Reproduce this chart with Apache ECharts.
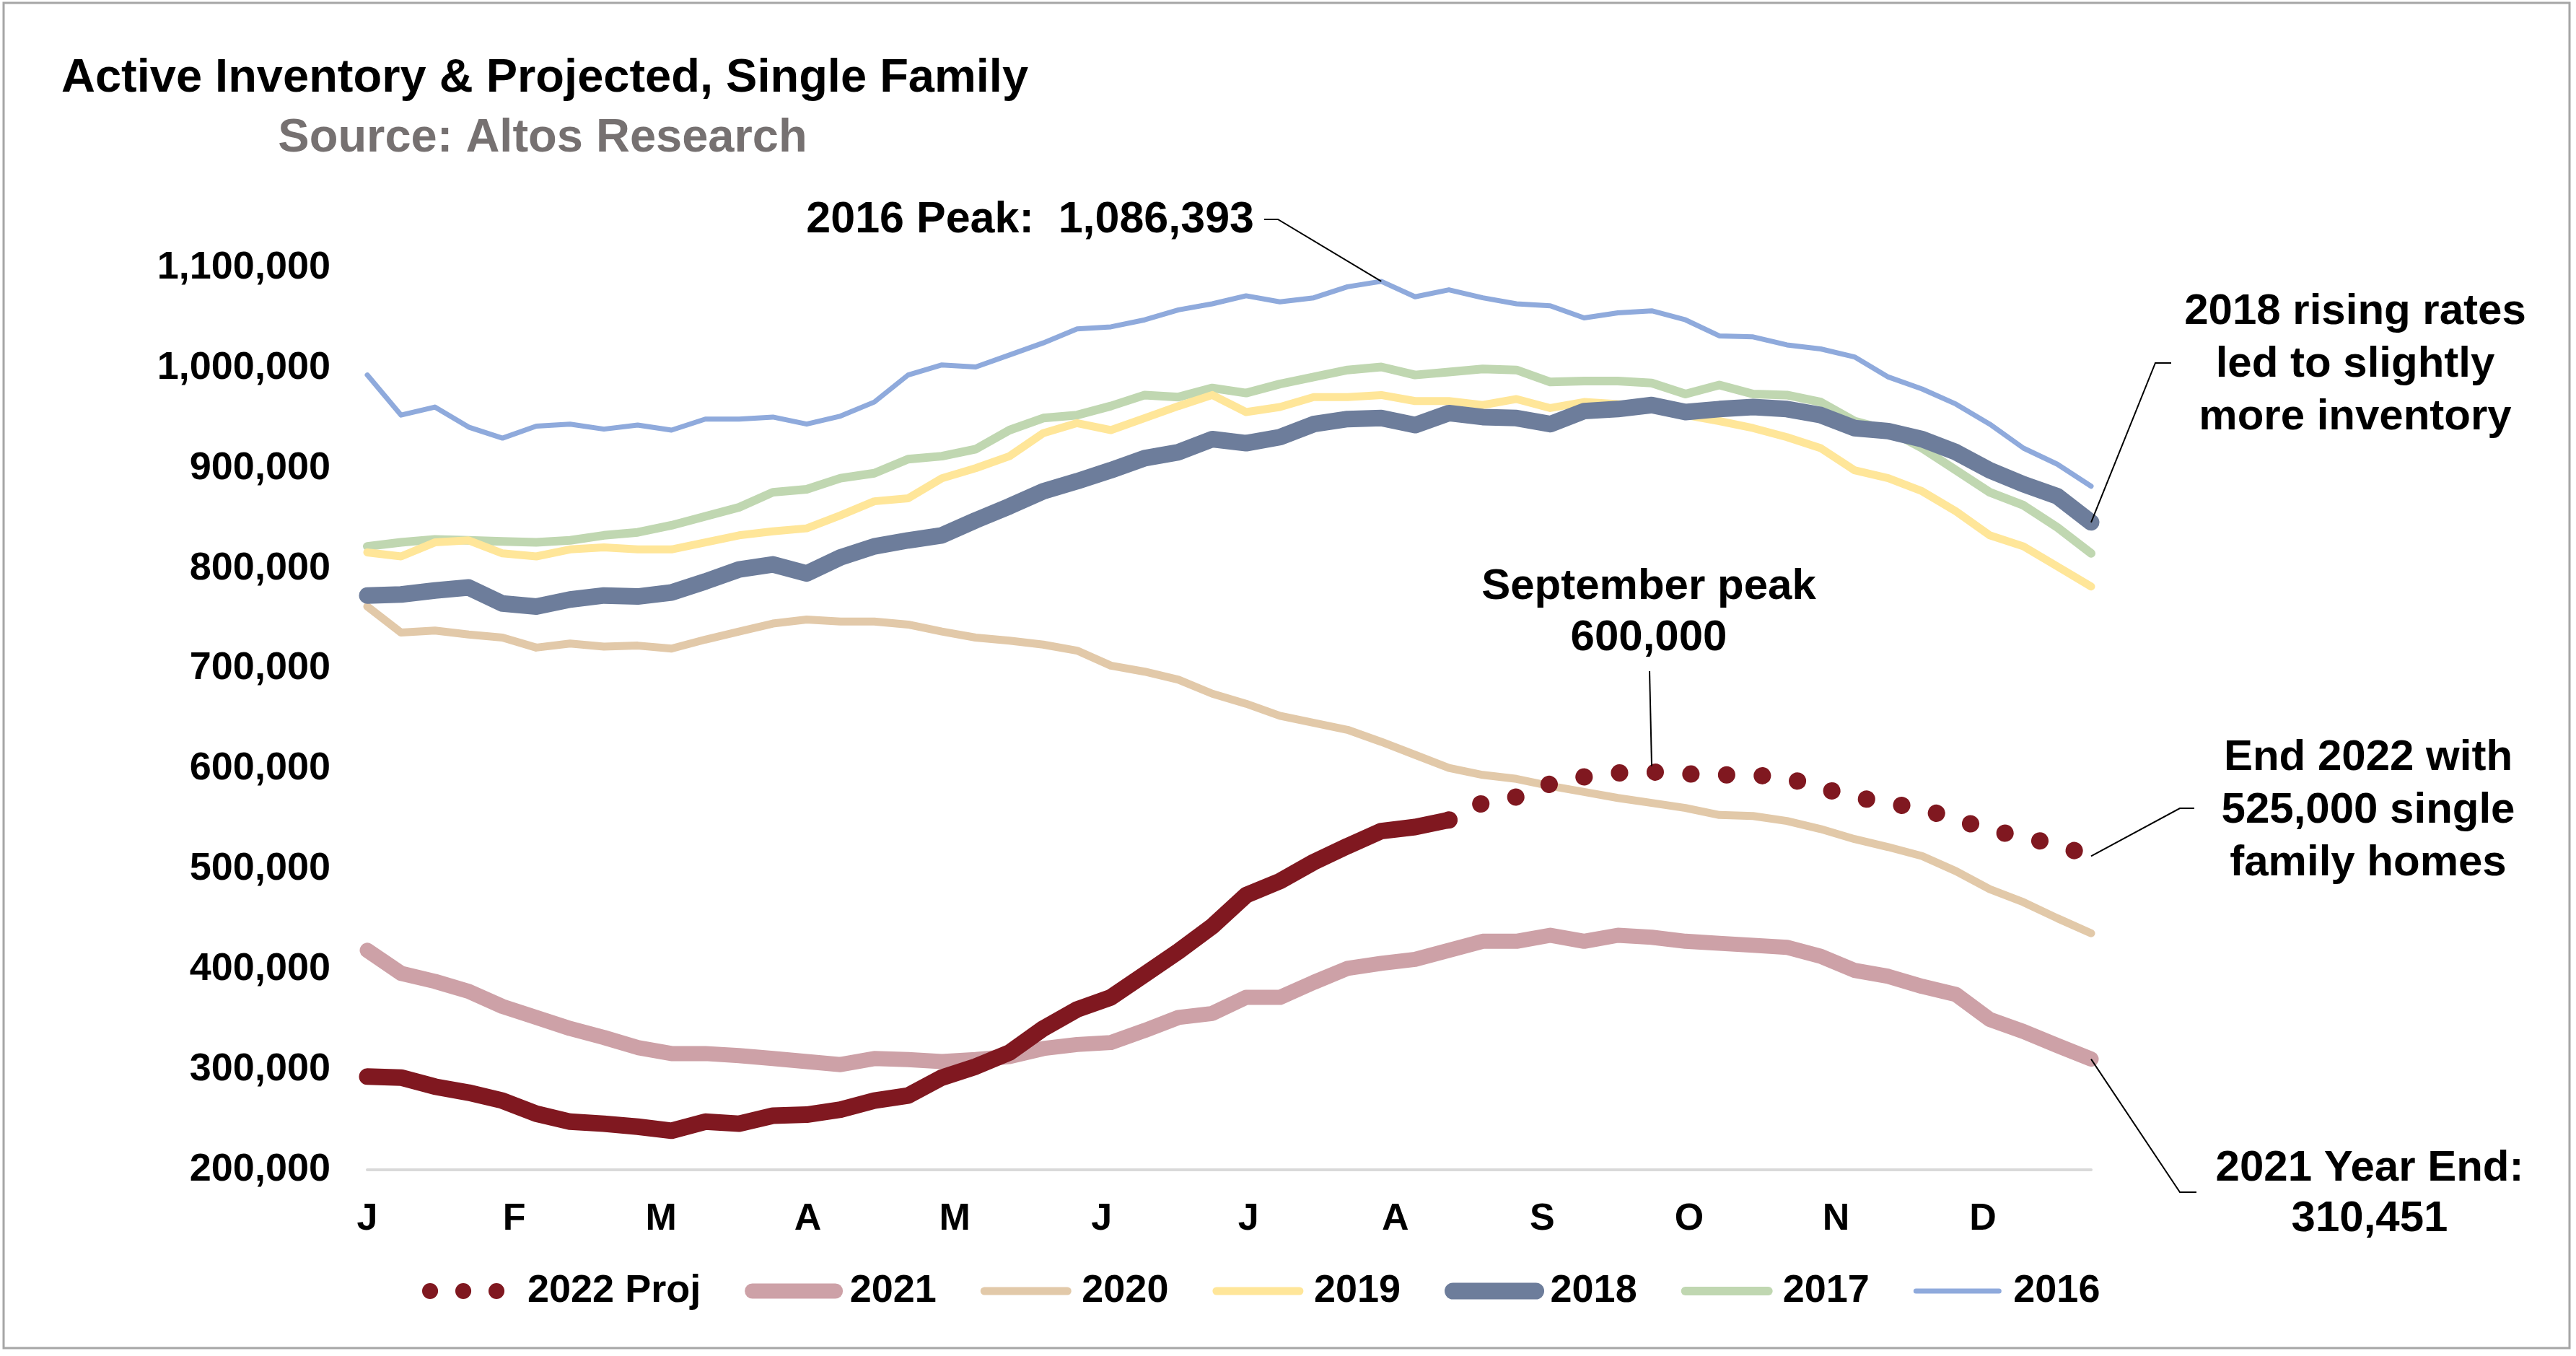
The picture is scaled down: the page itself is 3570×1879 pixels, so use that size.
<!DOCTYPE html>
<html>
<head>
<meta charset="utf-8">
<script src="https://cdn.jsdelivr.net/npm/echarts/dist/echarts.min.js"></script>
<style>
html,body{margin:0;padding:0;background:#fff;}
#chart{width:3570px;height:1879px;}
</style>
</head>
<body>
<div id="chart"></div>
<script>
// ---------- DATA (weekly, week 0 = first week of January) ----------
const monthLetters = ['J','F','M','A','M','J','J','A','S','O','N','D'];
const yTicks = [200000, 1100000, 100000]; // min, max, step

const s2016 = [993000,953000,961000,941000,930000,942000,944000,939000,943000,938000,
  949000,949000,951000,944000,952000,966000,993000,1003000,1001000,1013000,
  1025000,1039000,1041000,1048000,1058000,1064000,1072000,1066000,1070000,1081000,
  1086393,1071000,1078000,1070000,1064000,1062000,1050000,1055000,1057000,1048000,
  1032000,1031000,1023000,1019000,1011000,991000,979000,964000,944000,920000,
  904000,882000];
const s2017 = [822000,826000,829000,828000,827000,826000,828000,833000,836000,843000,
  852000,861000,876000,879000,890000,895000,909000,912000,919000,938000,
  950000,953000,962000,973000,971000,980000,975000,984000,991000,998000,
  1001000,993000,996000,999000,998000,986000,987000,987000,985000,974000,
  983000,974000,973000,966000,947000,938000,920000,898000,876000,863000,
  841000,815000];
const s2019 = [816000,812000,826000,828000,815000,812000,819000,821000,819000,819000,
  826000,833000,837000,840000,853000,867000,870000,890000,900000,912000,
  935000,945000,938000,950000,962000,973000,956000,961000,971000,971000,
  973000,967000,967000,963000,969000,960000,966000,964000,960000,953000,
  947000,940000,931000,920000,898000,890000,877000,857000,833000,822000,
  802000,782000];
const s2018 = [773000,774000,778000,781000,765000,762000,769000,773000,772000,776000,
  787000,799000,804000,795000,811000,822000,828000,833000,848000,862000,
  877000,887000,898000,910000,916000,929000,925000,931000,944000,949000,
  950000,943000,955000,951000,950000,944000,957000,959000,963000,956000,
  959000,961000,959000,953000,940000,937000,929000,916000,898000,884000,
  872000,846000];
const s2020 = [762000,736000,738000,734000,731000,721000,725000,722000,723000,720000,
  729000,737000,745000,749000,747000,747000,744000,737000,731000,728000,
  724000,718000,703000,697000,689000,675000,665000,653000,646000,639000,
  627000,614000,601000,594000,590000,583000,577000,571000,566000,561000,
  554000,553000,548000,540000,530000,522000,513000,498000,480000,467000,
  451000,436000];
const s2021 = [419000,396000,388000,378000,363000,352000,341000,332000,322000,316000,
  316000,314000,311000,308000,305000,311000,310000,308000,310000,313000,
  321000,325000,327000,339000,352000,356000,372000,372000,387000,401000,
  406000,410000,419000,428000,428000,434000,428000,434000,432000,428000,
  426000,424000,422000,413000,399000,393000,383000,375000,350000,338000,
  324000,310451];
const actual2022 = [293000,292000,283000,277000,269000,256000,248000,246000,243000,239000,
  248000,246000,254000,255000,260000,269000,274000,292000,303000,317000,
  341000,360000,372000,395000,418000,443000,474000,488000,507000,523000,
  538000,542000,549000];
const projStartWeek = 32;
const proj2022 = [549000,566000,572000,585000,592000,596000,597000,595000,594000,594000,
  591000,581000,572000,566000,560000,550000,539000,532000,524000,513000];

// ---------- STYLE ----------
const FONT = "'Liberation Sans', Arial, sans-serif";
const weeksPerMonth = 365 / 12 / 7;
const toPairs = (arr, start) => arr.map((v, i) => [start + i, v]);

function line(name, data, color, width, extra) {
  return Object.assign({
    name: name,
    type: 'line',
    data: data,
    symbol: 'none',
    showSymbol: false,
    silent: true,
    color: color,
    lineStyle: { color: color, width: width, cap: 'round', join: 'round' },
    emphasis: { disabled: true }
  }, extra || {});
}

const chart = echarts.init(document.getElementById('chart'), null, { renderer: 'canvas' });

chart.setOption({
  animation: false,
  backgroundColor: '#ffffff',
  textStyle: { fontFamily: FONT },
  grid: { left: 509, right: 672, top: 371, bottom: 258, containLabel: false },
  xAxis: {
    type: 'value', min: 0, max: 51, interval: weeksPerMonth,
    axisLine: { show: true, lineStyle: { color: '#d9d9d9', width: 4 } },
    axisTick: { show: false },
    splitLine: { show: false },
    axisLabel: {
      margin: 43, fontSize: 52, fontWeight: 'bold', color: '#000', fontFamily: FONT,
      formatter: function (v) {
        const k = Math.round(v / weeksPerMonth);
        return (Math.abs(v - k * weeksPerMonth) < 1e-6 && k < 12) ? monthLetters[k] : '';
      }
    }
  },
  yAxis: {
    type: 'value', min: yTicks[0], max: yTicks[1], interval: yTicks[2],
    axisLine: { show: false }, axisTick: { show: false }, splitLine: { show: false },
    axisLabel: {
      margin: 51, fontSize: 54, fontWeight: 'bold', color: '#000', fontFamily: FONT,
      formatter: function (v) { return v.toLocaleString('en-US'); }
    }
  },
  legend: {
    left: 585, top: 1762, padding: 0,
    itemWidth: 115, itemHeight: 24, itemGap: 61,
    selectedMode: false,
    itemStyle: { opacity: 0 },
    lineStyle: { width: 'inherit' },
    textStyle: { fontSize: 54, fontWeight: 'bold', color: '#000', fontFamily: FONT, padding: [0, 0, 0, 15] },
    data: [
      { name: '2022 Proj', lineStyle: { width: 22, type: [0.1, 45.9] } },
      '2021', '2020', '2019', '2018', '2017', '2016'
    ]
  },
  series: [
    line('2016', toPairs(s2016, 0), '#8faadc', 7),
    line('2017', toPairs(s2017, 0), '#c0d7b1', 12),
    line('2019', toPairs(s2019, 0), '#ffe699', 11),
    line('2020', toPairs(s2020, 0), '#e2c9a9', 11),
    line('2021', toPairs(s2021, 0), '#cda1a7', 21),
    line('2018', toPairs(s2018, 0), '#6d7d9b', 23),
    line('2022', toPairs(actual2022, 0), '#801820', 23),
    line('2022 Proj', toPairs(proj2022, projStartWeek), '#801820', 24, {
      lineStyle: { color: '#801820', width: 24, cap: 'round', join: 'round', type: [0.1, 49.4] }
    })
  ]
});

// ---------- ANNOTATIONS (anchored to data points) ----------
const px = (x, y) => chart.convertToPixel({ xAxisIndex: 0, yAxisIndex: 0 }, [x, y]);
const peakIdx = s2016.indexOf(Math.max.apply(null, s2016));
const pPeak = px(peakIdx, s2016[peakIdx]);
const sepIdx = proj2022.indexOf(Math.max.apply(null, proj2022));
const pSep = px(projStartWeek + sepIdx, proj2022[sepIdx]);
const p2018 = px(s2018.length - 1, s2018[s2018.length - 1]);
const pProj = px(projStartWeek + proj2022.length - 1, proj2022[proj2022.length - 1]);
const p2021 = px(s2021.length - 1, s2021[s2021.length - 1]);

function txt(id, text, x, y, size, align, color, lh) {
  return {
    type: 'text', id: id, x: x, y: y, silent: true, z: 100,
    style: {
      text: text, fontSize: size, fontWeight: 'bold', fontFamily: FONT,
      fill: color || '#000', align: align || 'center', verticalAlign: 'middle',
      lineHeight: lh || size * 1.2
    }
  };
}
function leader(id, pts) {
  return {
    type: 'polyline', id: id, silent: true, z: 100,
    shape: { points: pts },
    style: { stroke: '#000', lineWidth: 2, fill: null }
  };
}

chart.setOption({
  graphic: [
    { type: 'rect', id: 'frame', silent: true, z: 0,
      shape: { x: 5, y: 4, width: 3556, height: 1864 },
      style: { fill: null, stroke: '#a6a6a6', lineWidth: 3 } },
    txt('title', 'Active Inventory & Projected, Single Family', 755, 109, 65, 'center', '#000'),
    txt('sub', 'Source: Altos Research', 752, 192, 65, 'center', '#767171'),
    txt('a2016', '2016 Peak:  1,086,393', 1738, 305, 61, 'right'),
    leader('l2016', [[1752, 304], [1771, 304], [pPeak[0], pPeak[1]]]),
    txt('aSep', 'September peak\n600,000', 2285, 849, 60, 'center', '#000', 71),
    leader('lSep', [[pSep[0] - 3, 930], [pSep[0], pSep[1] - 8]]),
    txt('a2018', '2018 rising rates\nled to slightly\nmore inventory', 3264, 505, 60, 'center', '#000', 73),
    leader('l2018', [[3009, 503], [2987, 503], [p2018[0], p2018[1]]]),
    txt('aProj', 'End 2022 with\n525,000 single\nfamily homes', 3282, 1123, 60, 'center', '#000', 73),
    leader('lProj', [[3041, 1120], [3021, 1120], [pProj[0], pProj[1]]]),
    txt('a2021', '2021 Year End:\n310,451', 3284, 1654, 60, 'center', '#000', 70),
    leader('l2021', [[p2021[0], p2021[1]], [3021, 1652], [3044, 1652]])
  ]
});
</script>
</body>
</html>
